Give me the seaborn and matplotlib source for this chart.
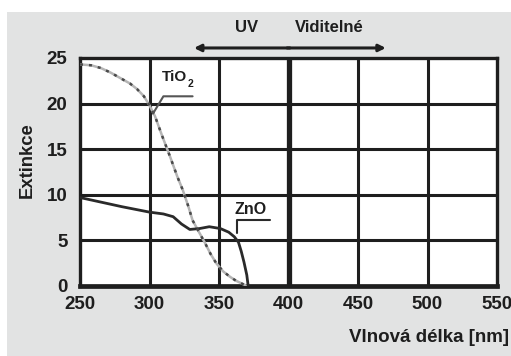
import matplotlib
matplotlib.use("Agg")
import matplotlib.pyplot as plt
import seaborn as sns
import pandas as pd
from matplotlib.patches import Rectangle

# ---- data ----
tio2_x = [250, 258, 265, 272, 279, 286, 291, 296, 300, 304, 309, 315, 320, 324, 328, 331, 336, 340, 344, 348, 353, 358, 362, 366, 370]
tio2_y = [24.3, 24.2, 23.9, 23.4, 22.8, 22.2, 21.6, 20.8, 19.8, 18.6, 16.5, 14.1, 12.0, 10.5, 8.7, 7.2, 5.8, 4.7, 3.5, 2.5, 1.6, 1.0, 0.6, 0.3, 0.0]
zno_x = [250, 265, 280, 300, 310, 317, 323, 329, 336, 343, 351, 357, 361, 364, 366, 368, 370, 371]
zno_y = [9.7, 9.2, 8.7, 8.1, 7.9, 7.6, 6.8, 6.2, 6.3, 6.5, 6.3, 5.9, 5.4, 4.8, 3.8, 2.6, 1.2, 0.0]
x_ticks = [250, 300, 350, 400, 450, 500, 550]
y_ticks = [0, 5, 10, 15, 20, 25]
x_label = "Vlnová délka [nm]"
y_label = "Extinkce"
uv_label = "UV"
vis_label = "Viditelné"

sns.set_theme(style="white")
plt.rcParams['font.family'] = ['Liberation Sans', 'DejaVu Sans']
plt.rcParams['font.weight'] = 'bold'

INK = '#1e1e1e'

fig = plt.figure(figsize=(5.11, 3.56), dpi=100)
fig.patch.set_facecolor('white')
bg = Rectangle((7 / 511, 0), 1, 1 - 12 / 356, transform=fig.transFigure,
               facecolor='#e2e3e3', edgecolor='none', zorder=-10)
fig.patches.append(bg)

ax = fig.add_axes([80 / 511, 1 - 286 / 356, 417 / 511, 228 / 356])
ax.set_zorder(1)
ax.set_facecolor('white')

df_t = pd.DataFrame({"x": tio2_x, "y": tio2_y})
df_z = pd.DataFrame({"x": zno_x, "y": zno_y})

# grid lines
for xv in [300, 350, 450, 500]:
    ax.axvline(xv, color=INK, lw=2.2, zorder=1)
ax.axvline(400, color=INK, lw=3.8, zorder=1)
for yv in [5, 10, 15, 20]:
    ax.axhline(yv, color=INK, lw=2.2, zorder=1)

sns.lineplot(data=df_t, x="x", y="y", ax=ax, color='#b5b5b5', lw=1.8, sort=False, zorder=3)
ax.plot(tio2_x, tio2_y, color='#4a4a4a', lw=1.8, ls=(0, (1.2, 2.4)), zorder=4)
sns.lineplot(data=df_z, x="x", y="y", ax=ax, color='#2a2a2a', lw=2.0, sort=False, zorder=3)

ax.set_xlim(250, 550)
ax.set_ylim(0, 25)
ax.set_xticks(x_ticks)
ax.set_yticks(y_ticks)
ax.set_xticklabels([str(v) for v in x_ticks], fontsize=13.5, fontweight='bold', color=INK)
ax.set_yticklabels([str(v) for v in y_ticks], fontsize=13.5, fontweight='bold', color=INK)
ax.tick_params(axis='x', length=0, pad=7)
ax.tick_params(axis='y', length=0, pad=9)
ax.set_xlabel("")
ax.set_ylabel("")
for s in ax.spines.values():
    s.set_color(INK)
    s.set_linewidth(2.4)
ax.spines['bottom'].set_linewidth(3.4)

# curve labels with leader lines
ax.text(309, 22.2, "TiO", fontsize=11, fontweight='bold', color=INK, ha='left', va='bottom')
ax.text(327.5, 21.6, "2", fontsize=7.5, fontweight='bold', color=INK, ha='left', va='bottom')
ax.plot([302.5, 310, 331], [18.9, 20.8, 20.8], color='#555555', lw=1.5, zorder=5)
ax.text(361.5, 7.6, "ZnO", fontsize=11.5, fontweight='bold', color=INK, ha='left', va='bottom')
ax.plot([363, 363, 386.7], [5.8, 7.2, 7.2], color='#2a2a2a', lw=1.5, zorder=5)

# UV / visible annotation above the plot
ax.annotate("", xy=(332, 26.1), xytext=(401, 26.1), xycoords='data', textcoords='data',
            arrowprops=dict(arrowstyle='-|>', color=INK, lw=2.2, mutation_scale=10,
                            shrinkA=0, shrinkB=0), annotation_clip=False)
ax.annotate("", xy=(470, 26.1), xytext=(399, 26.1), xycoords='data', textcoords='data',
            arrowprops=dict(arrowstyle='-|>', color=INK, lw=2.2, mutation_scale=10,
                            shrinkA=0, shrinkB=0), annotation_clip=False)
ax.text(369.5, 28.3, uv_label, fontsize=12, fontweight='bold', color=INK, ha='center', va='center', clip_on=False)
ax.text(429, 28.3, vis_label, fontsize=12, fontweight='bold', color=INK, ha='center', va='center', clip_on=False)

fig.text(27 / 511, 1 - 160 / 356, y_label, rotation=90, fontsize=13.3, fontweight='bold',
         color=INK, ha='center', va='center')
fig.text(509 / 511, 1 - 337 / 356, x_label, fontsize=13.5, fontweight='bold',
         color=INK, ha='right', va='center')

fig.savefig("out.png", dpi=100, facecolor=fig.get_facecolor())
